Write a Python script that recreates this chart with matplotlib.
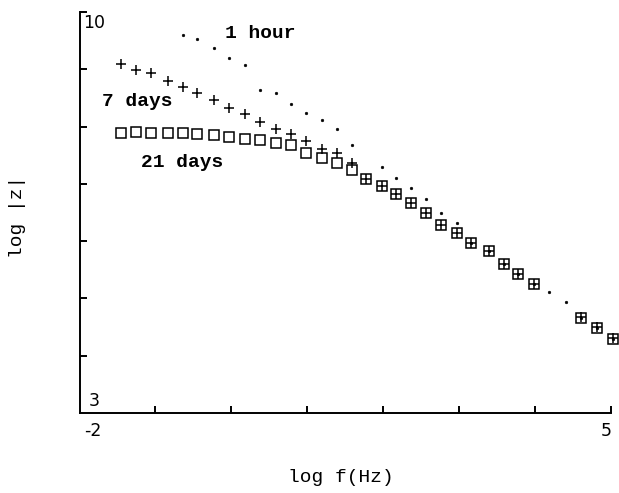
import numpy as np
import matplotlib
matplotlib.use("Agg")
import matplotlib.pyplot as plt

# log frequency (Hz)
log_f = [-1.45, -1.26, -1.06, -0.84, -0.64, -0.45, -0.23, -0.03, 0.18, 0.38,
         0.59, 0.78, 0.98, 1.19, 1.39, 1.59, 1.77, 1.98, 2.17, 2.36,
         2.56, 2.76, 2.97, 3.16, 3.39, 3.59, 3.78, 3.99, 4.19, 4.41,
         4.61, 4.82, 5.02]

nan = np.nan
# 1 hour (dots)
hour_1 = [nan, nan, nan, nan, 9.60, 9.53, 9.37, 9.19, 9.07, 8.63,
          8.58, 8.39, 8.23, 8.11, 7.96, 7.68, nan, 7.29, 7.11, 6.92,
          6.74, 6.50, 6.32, 5.97, 5.82, 5.60, 5.43, 5.25, 5.11, 4.93,
          4.65, 4.48, 4.29]
# 7 days (plus)
days_7 = [9.10, 8.99, 8.94, 8.80, 8.69, 8.59, 8.46, 8.32, 8.22, 8.08,
          7.96, 7.87, 7.75, 7.60, 7.54, 7.37, 7.09, 6.96, 6.82, 6.66,
          6.50, 6.28, 6.15, 5.97, 5.82, 5.60, 5.43, 5.25, nan, nan,
          4.67, 4.50, 4.31]
# 21 days (squares)
days_21 = [7.88, 7.90, 7.88, 7.88, 7.88, 7.87, 7.85, 7.82, 7.78, 7.77,
           7.71, 7.67, 7.54, 7.46, 7.36, 7.25, 7.09, 6.96, 6.82, 6.66,
           6.50, 6.28, 6.15, 5.97, 5.82, 5.60, 5.43, 5.25, nan, nan,
           4.65, 4.48, 4.29]

x_ticks = [-1, 0, 1, 2, 3, 4, 5]
y_ticks = [4, 5, 6, 7, 8, 9, 10]

W, H = 619, 493
fig = plt.figure(figsize=(W / 100, H / 100), dpi=100)
ax = fig.add_axes([79.5 / W, 1 - 413 / H, (611 - 79.5) / W, (413 - 12) / H])

ax.plot(log_f, days_21, linestyle="none", marker="s", ms=6.8, mfc="none",
        mec="black", mew=1.1, clip_on=False)
ax.plot(log_f, days_7, linestyle="none", marker="+", ms=7.5, mec="black",
        mew=1.1, clip_on=False)
ax.plot(log_f, hour_1, linestyle="none", marker="o", ms=2.0, mfc="black",
        mec="black", mew=0.3, clip_on=False)

ax.set_xlim(-2, 5)
ax.set_ylim(3, 10)
ax.set_xticks(x_ticks)
ax.set_yticks(y_ticks)
ax.tick_params(axis="both", direction="in", length=5, width=1.4,
               labelleft=False, labelbottom=False)
for s in ["top", "right"]:
    ax.spines[s].set_visible(False)
for s in ["left", "bottom"]:
    ax.spines[s].set_linewidth(1.4)

tick_font = dict(family="DejaVu Sans", fontsize=12.5, color="black")
ax.text(0.006, 0.995, "10", transform=ax.transAxes, ha="left", va="top", **tick_font)
ax.text(0.018, 0.008, "3", transform=ax.transAxes, ha="left", va="bottom", **tick_font)
fig.text(93 / W, 1 - 431 / H, "-2", ha="center", va="center", **tick_font)
fig.text(606 / W, 1 - 431 / H, "5", ha="center", va="center", **tick_font)

lab_font = dict(family="Liberation Mono", fontsize=14, color="black", weight="bold")
ax.text(-0.09, 9.54, "1 hour", ha="left", va="baseline", **lab_font)
ax.text(-1.71, 8.36, "7 days", ha="left", va="baseline", **lab_font)
ax.text(-1.19, 7.30, "21 days", ha="left", va="baseline", **lab_font)

fig.text(341 / W, 1 - 478 / H, "log f(Hz)", ha="center", va="center",
         family="Liberation Mono", fontsize=14)
fig.text(17.5 / W, 1 - 217 / H, "log |z|", ha="center", va="center",
         rotation=90, family="Liberation Mono", fontsize=14)

fig.savefig("out.png", dpi=100)
